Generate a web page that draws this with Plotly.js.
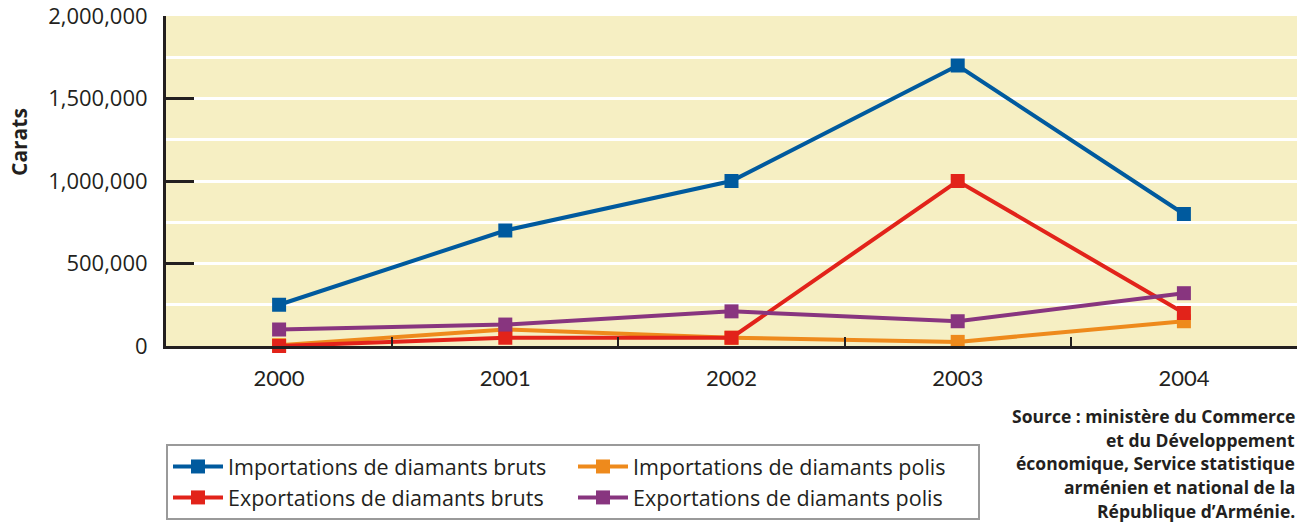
<!DOCTYPE html>
<html>
<head>
<meta charset="utf-8">
<script src="https://cdn.plot.ly/plotly-3.0.1.min.js"></script>
<style>html,body{margin:0;padding:0;background:#fff;}#chart{width:1300px;height:526px;}</style>
</head>
<body>
<div id="chart"></div>
<script>
const years = ['2000', '2001', '2002', '2003', '2004'];
const importBruts = [250000, 700000, 1000000, 1700000, 800000];
const importPolis = [5000, 100000, 50000, 25000, 150000];
const exportBruts = [0, 50000, 50000, 1000000, 200000];
const exportPolis = [100000, 130000, 210000, 150000, 320000];
const seriesNames = [
  'Importations de diamants bruts',
  'Importations de diamants polis',
  'Exportations de diamants bruts',
  'Exportations de diamants polis'
];
const yTickVals = [0, 500000, 1000000, 1500000, 2000000];
const yTickText = ['0', '500,000', '1,000,000', '1,500,000', '2,000,000'];
const yTitle = 'Carats';
const sourceLines = [
  'Source : ministère du Commerce',
  'et du Développement',
  'économique, Service statistique',
  'arménien et national de la',
  'République d’Arménie.'
];

const colors = ['#005A9E', '#EE8A1C', '#E2231A', '#88357F'];
const seriesData = [importBruts, importPolis, exportBruts, exportPolis];

const traces = seriesData.map((vals, i) => ({
  type: 'scatter',
  mode: 'lines+markers',
  x: years,
  y: vals,
  name: seriesNames[i],
  line: {color: colors[i], width: 4},
  marker: {symbol: 'square', size: 14, color: colors[i]},
  cliponaxis: false,
  legendrank: i + 1
}));
const drawOrder = [1, 2, 3, 0];
const orderedTraces = drawOrder.map(i => traces[i]);

const sans = '"Open Sans", sans-serif';
const narrow = 'Lato, sans-serif';
const ink = '#231F20';

const plotTop = 16, plotBottom = 346, plotH = plotBottom - plotTop;
const toPaperY = p => (plotBottom - p) / plotH;

const annotations = sourceLines.map((t, i) => ({
  xref: 'paper', yref: 'paper',
  x: 1.0, y: toPaperY(416 + i * 23.75),
  xanchor: 'right', yanchor: 'middle',
  align: 'right', showarrow: false,
  text: '<b>' + t + '</b>',
  font: {family: sans, size: 17.5, color: ink}
}));
annotations.push({
  xref: 'paper', yref: 'paper',
  x: -147 / 1131, y: toPaperY(142),
  xanchor: 'center', yanchor: 'middle',
  textangle: -90, showarrow: false,
  text: '<b>' + yTitle + '</b>',
  font: {family: sans, size: 21, color: ink}
});

const layout = {
  width: 1300,
  height: 526,
  margin: {l: 166, r: 3, t: 16, b: 180},
  paper_bgcolor: '#ffffff',
  plot_bgcolor: '#F6EFC3',
  font: {family: sans, color: ink, size: 20},
  showlegend: true,
  legend: {
    orientation: 'h',
    x: 0, xanchor: 'left',
    y: toPaperY(444), yanchor: 'top',
    bordercolor: '#9a9a9a',
    borderwidth: 2,
    bgcolor: '#ffffff',
    font: {family: sans, size: 21.5, color: ink},
    entrywidth: 340,
    itemwidth: 50,
    traceorder: 'normal'
  },
  xaxis: {
    type: 'category',
    range: [-0.5, 4.5],
    showline: true, linecolor: ink, linewidth: 3,
    ticks: 'inside', ticklen: 9, tickwidth: 2, tickcolor: ink,
    tickson: 'boundaries',
    ticklabelstandoff: 11,
    showgrid: false,
    tickfont: {family: narrow, size: 22, color: ink},
    fixedrange: true
  },
  yaxis: {
    range: [0, 2000000],
    tickvals: yTickVals,
    ticktext: yTickText,
    showline: true, linecolor: ink, linewidth: 3,
    ticks: 'inside', ticklen: 28, tickwidth: 3, tickcolor: ink,
    ticklabelstandoff: 11,
    ticklabeloverflow: 'allow',
    showgrid: true, gridcolor: '#ffffff', gridwidth: 3,
    minor: {dtick: 250000, tick0: 0, showgrid: true, gridcolor: '#ffffff', gridwidth: 3, ticks: ''},
    zeroline: false,
    tickfont: {family: sans, size: 22, color: ink},
    fixedrange: true
  },
  annotations: annotations
};

Plotly.newPlot('chart', orderedTraces, layout, {displayModeBar: false, staticPlot: true});
</script>
</body>
</html>
